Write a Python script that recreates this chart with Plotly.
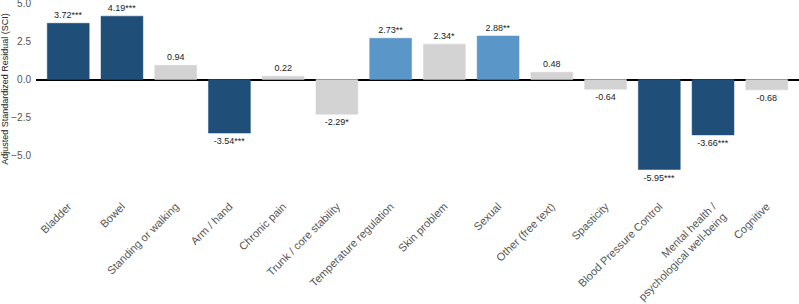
import plotly.graph_objects as go

categories = ["Bladder", "Bowel", "Standing or walking", "Arm / hand", "Chronic pain",
              "Trunk / core stability", "Temperature regulation", "Skin problem", "Sexual",
              "Other (free text)", "Spasticity", "Blood Pressure Control",
              "Mental health /<br>psychological well-being", "Cognitive"]
values = [3.72, 4.19, 0.94, -3.54, 0.22, -2.29, 2.73, 2.34, 2.88, 0.48, -0.64, -5.95, -3.66, -0.68]
stars = ["***", "***", "", "***", "", "*", "**", "*", "**", "", "", "***", "***", ""]

color_map = {"***": "#1f4e79", "**": "#5b96c8", "*": "#d3d3d3", "": "#d3d3d3"}
colors = [color_map[s] for s in stars]
labels = [f"{v:.2f}{s}" for v, s in zip(values, stars)]

fig = go.Figure(go.Bar(
    x=categories, y=values,
    marker=dict(color=colors, line=dict(color=colors, width=0.5)),
    width=0.78,
    text=labels, textposition="outside", cliponaxis=False,
    textfont=dict(size=9, color="#222"),
))

fig.update_layout(
    width=799, height=304,
    margin=dict(l=36, r=0, t=0, b=126),
    plot_bgcolor="white", paper_bgcolor="white",
    font=dict(family="Liberation Sans, Arial, sans-serif"),
    showlegend=False,
    uniformtext=dict(minsize=9, mode="show"),
)
fig.update_xaxes(range=[-0.6, 13.6], tickangle=-45, showgrid=False, showline=False,
                 tickfont=dict(size=11, color="#555"), ticks="", ticklabelstandoff=19,
                 automargin=False)
fig.update_yaxes(range=[-6.51, 5.26], tickvals=[5, 2.5, 0, -2.5, -5], tickformat=".1f",
                 showgrid=False, zeroline=True, zerolinecolor="black", zerolinewidth=2,
                 tickfont=dict(size=10, color="#555"), ticklabelstandoff=4,
                 ticklabeloverflow="allow", automargin=False,
                 title=dict(text="Adjusted Standardized Residual (SCI)", font=dict(size=9, color="#222"),
                            standoff=2))

fig.write_html("out.html")
